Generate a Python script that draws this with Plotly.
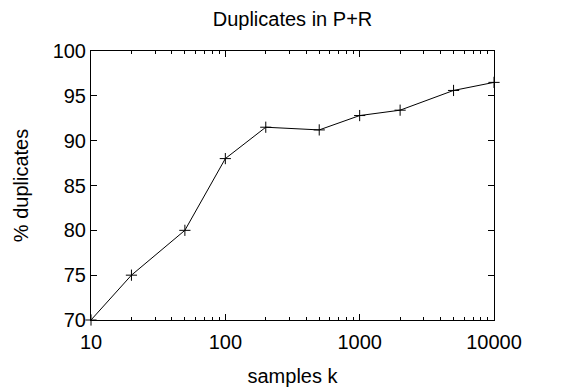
import plotly.graph_objects as go

samples_k = [10, 20, 50, 100, 200, 500, 1000, 2000, 5000, 10000]
pct_duplicates = [70.0, 75.0, 80.0, 88.0, 91.5, 91.2, 92.8, 93.4, 95.6, 96.5]
x_tick_vals = [10, 100, 1000, 10000]
x_tick_text = ["10", "100", "1000", "10000"]
y_tick_vals = [70, 75, 80, 85, 90, 95, 100]

FONT = "Liberation Sans, Arial, sans-serif"

fig = go.Figure()
fig.add_trace(go.Scatter(
    x=samples_k, y=pct_duplicates, mode="lines+markers",
    line=dict(color="black", width=1),
    marker=dict(symbol="cross-thin", size=8, line=dict(color="black", width=1)),
    cliponaxis=False, showlegend=False,
))

axis_common = dict(
    showline=True, linecolor="black", linewidth=1, mirror="allticks",
    ticks="inside", ticklen=6, tickcolor="black", tickwidth=1,
    showgrid=False, zeroline=False, automargin=False,
    tickfont=dict(family=FONT, size=20, color="black"),
)

fig.update_layout(
    width=567, height=390,
    margin=dict(l=91, r=73, t=51, b=70),
    paper_bgcolor="white", plot_bgcolor="white",
    font=dict(family=FONT, color="black"),
    title=dict(text="Duplicates in P+R", x=0.5, xanchor="center", y=0.952, yanchor="middle",
               xref="paper", font=dict(family=FONT, size=20, color="black")),
    xaxis=dict(type="log", range=[1, 4], tickvals=x_tick_vals, ticktext=x_tick_text,
               ticklabelstandoff=4,
               title=dict(text="samples k", font=dict(family=FONT, size=20, color="black"), standoff=16),
               minor=dict(ticks="inside", ticklen=3, tickcolor="black", dtick="D1", showgrid=False),
               **axis_common),
    yaxis=dict(range=[70, 100], tickvals=y_tick_vals,
               title=dict(text="% duplicates", font=dict(family=FONT, size=20, color="black"), standoff=18),
               **axis_common),
)

fig.write_html("out.html")
